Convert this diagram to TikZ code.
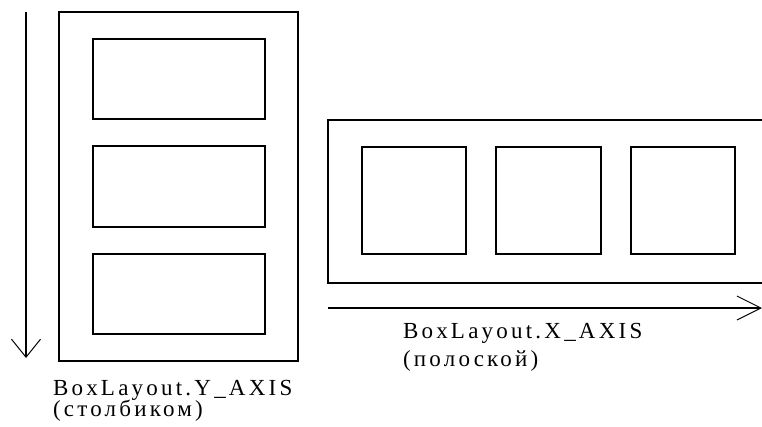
\documentclass[tikz,border=0pt]{standalone}
\usepackage{fontspec}
\setmainfont{Liberation Serif}
\newfontfamily\labelfont[LetterSpace=14]{Liberation Serif}
\usetikzlibrary{arrows.meta}
\tikzset{
  frame/.style={draw, line width=1.9pt},
  cell/.style={draw, line width=1.9pt},
  axisline/.style={line width=1.4pt},
  caption/.style={inner sep=0pt, outer sep=0pt, anchor=base west,
    font=\labelfont\fontsize{23}{23}\selectfont},
}
\begin{document}
\begin{tikzpicture}[x=1pt, y=-1pt]
  \useasboundingbox (0,0) rectangle (762,426);
  \clip (0,0) rectangle (762,426);
  \fill[white] (0,0) rectangle (762,426);

  % vertical layout: container with three stacked cells
  \draw[frame] (59,12) rectangle (298,361);
  \draw[cell] (93,39) rectangle (265,119);
  \draw[cell] (93,146) rectangle (265,227);
  \draw[cell] (93,254) rectangle (265,334);

  % Y axis direction
  \coordinate (ytop) at (26,12);
  \coordinate (ybot) at (26,358);
  \draw[axisline, -{Straight Barb[length=18pt, width=29pt, line width=1pt]}] (ytop) -- (ybot);

  \node[caption] (ylabel) at (53,395) {BoxLayout.Y\_AXIS};
  \node[caption] (ynote) at (53,416) {(столбиком)};

  % horizontal layout: container with three cells in a row
  \draw[frame] (328,120) rectangle (790,283);
  \draw[cell] (362,147) rectangle (466,254);
  \draw[cell] (496,147) rectangle (601,254);
  \draw[cell] (631,147) rectangle (735,254);

  % X axis direction
  \coordinate (xleft) at (328,308);
  \coordinate (xright) at (762,308);
  \draw[axisline, -{Straight Barb[length=24pt, width=24pt, line width=1pt]}] (xleft) -- (xright);

  \node[caption] (xlabel) at (403,338) {BoxLayout.X\_AXIS};
  \node[caption] (xnote) at (403,366) {(полоской)};
\end{tikzpicture}
\end{document}
